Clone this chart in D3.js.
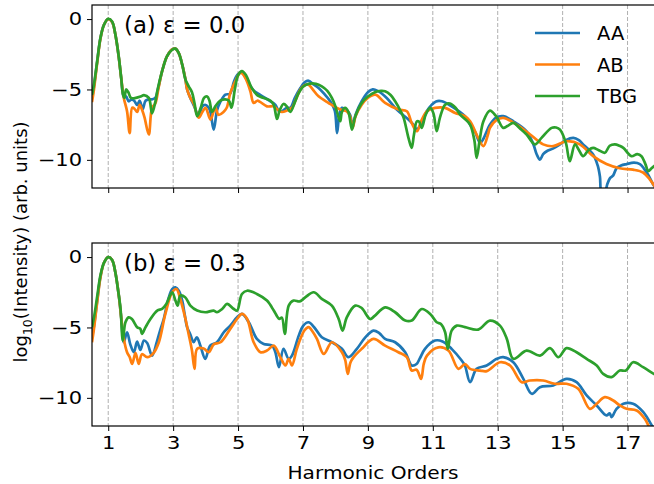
<!DOCTYPE html>
<html>
<head>
<meta charset="utf-8">
<script src="https://cdn.jsdelivr.net/npm/d3@7"></script>
<style>
  body { margin: 0; background: #fff; }
  text { font-family: "DejaVu Sans", sans-serif; fill: #000; }
</style>
</head>
<body>
<div id="chart"></div>
<script>
// series / ticks
const seriesNames = ["AA", "AB", "TBG"];
const seriesColors = ["#1f77b4", "#ff7f0e", "#2ca02c"];
const xTicks = [1, 3, 5, 7, 9, 11, 13, 15, 17];
const yTicks = [0, -5, -10];
const panelTitles = ["(a) ε = 0.0", "(b) ε = 0.3"];

// panel (a), eps = 0.0 : [harmonic order, log10 intensity]
const aaA = [[0.5,-5.6],[0.56,-4.8],[0.66,-3.0],[0.76,-1.35],[0.87,-0.4],[1.0,0],[1.12,-0.2],[1.22,-1.1],[1.33,-2.8],[1.40,-4.2],[1.48,-5.5],[1.55,-5.5],[1.63,-5.84],[1.72,-5.7],[1.8,-5.8],[1.89,-6.1],[1.97,-5.8],[2.06,-6.4],[2.15,-5.8],[2.25,-5.7],[2.35,-5.7],[2.45,-5.6],[2.55,-4.8],[2.66,-3.7],[2.81,-2.65],[2.97,-2.15],[3.07,-2.1],[3.17,-2.4],[3.28,-3.24],[3.38,-4.3],[3.43,-5.0],[3.53,-5.6],[3.65,-6.2],[3.79,-6.9],[3.9,-6.2],[4.0,-6.1],[4.12,-6.4],[4.25,-7.85],[4.35,-6.5],[4.45,-5.9],[4.61,-5.37],[4.75,-5.3],[4.88,-4.4],[5.0,-3.9],[5.12,-3.8],[5.25,-4.2],[5.45,-5.0],[5.69,-5.4],[6.0,-5.84],[6.15,-6.1],[6.25,-6.5],[6.35,-6.55],[6.5,-6.3],[6.61,-6.3],[6.75,-5.6],[6.92,-4.9],[7.05,-4.5],[7.17,-4.38],[7.3,-4.6],[7.48,-4.9],[7.65,-5.3],[7.84,-5.84],[7.98,-6.5],[8.05,-8.1],[8.12,-6.8],[8.2,-6.3],[8.35,-6.5],[8.45,-6.8],[8.53,-7.6],[8.62,-6.8],[8.81,-5.84],[9.0,-5.2],[9.15,-5.0],[9.3,-5.1],[9.58,-5.6],[9.89,-6.43],[10.25,-7.14],[10.4,-7.5],[10.51,-7.85],[10.6,-7.6],[10.66,-7.5],[10.8,-6.6],[10.97,-6.08],[11.1,-5.85],[11.28,-5.84],[11.58,-6.2],[11.99,-6.9],[12.15,-7.5],[12.3,-8.0],[12.46,-8.8],[12.56,-8.5],[12.76,-7.5],[12.95,-7.0],[13.17,-6.9],[13.48,-7.26],[13.89,-7.97],[14.1,-8.9],[14.2,-9.6],[14.3,-9.98],[14.4,-9.6],[14.51,-9.39],[14.7,-9.2],[14.92,-8.9],[15.1,-8.6],[15.33,-8.44],[15.5,-8.6],[15.63,-8.9],[15.94,-9.62],[16.08,-10.4],[16.15,-11.2],[16.2,-12.3],[16.3,-12.3],[16.38,-11.7],[16.46,-11.3],[16.56,-11.1],[16.66,-10.6],[16.8,-10.4],[16.97,-10.3],[17.2,-10.2],[17.38,-10.3],[17.5,-10.6],[17.63,-11.04],[17.79,-11.75],[17.9,-12.1]];
const abA = [[0.5,-5.9],[0.56,-5.0],[0.66,-3.1],[0.76,-1.4],[0.87,-0.4],[1.0,0],[1.12,-0.2],[1.22,-1.1],[1.33,-2.8],[1.40,-4.2],[1.48,-5.6],[1.58,-6.55],[1.66,-8.1],[1.74,-6.3],[1.82,-6.4],[1.89,-6.6],[1.97,-6.1],[2.05,-6.5],[2.12,-7.0],[2.25,-8.2],[2.35,-6.3],[2.45,-6.0],[2.55,-4.9],[2.66,-3.7],[2.81,-2.65],[2.97,-2.15],[3.07,-2.1],[3.17,-2.4],[3.28,-3.24],[3.38,-4.3],[3.43,-5.0],[3.53,-5.6],[3.63,-6.0],[3.79,-7.0],[3.9,-6.6],[4.0,-6.3],[4.15,-7.14],[4.3,-6.3],[4.4,-6.8],[4.55,-6.6],[4.65,-6.3],[4.76,-5.25],[4.92,-4.4],[5.05,-3.85],[5.12,-3.85],[5.25,-4.3],[5.38,-5.13],[5.48,-5.96],[5.59,-5.8],[5.69,-5.9],[5.89,-6.2],[6.1,-6.2],[6.2,-6.4],[6.35,-6.6],[6.5,-6.5],[6.66,-6.3],[6.8,-5.6],[6.92,-5.0],[7.05,-4.7],[7.17,-4.66],[7.3,-5.0],[7.48,-5.49],[7.79,-5.96],[8.15,-6.43],[8.35,-6.55],[8.45,-6.9],[8.53,-7.73],[8.62,-6.9],[8.81,-6.08],[9.0,-5.6],[9.23,-5.37],[9.53,-5.96],[9.94,-6.43],[10.2,-6.55],[10.35,-7.38],[10.51,-7.97],[10.65,-7.2],[10.82,-6.55],[11.07,-6.31],[11.38,-6.31],[11.69,-6.67],[11.99,-6.9],[12.15,-7.26],[12.4,-8.44],[12.56,-9.03],[12.7,-8.2],[12.76,-7.73],[12.95,-7.2],[13.17,-7.02],[13.58,-7.5],[14.0,-8.2],[14.4,-8.9],[14.71,-9.03],[15.12,-8.68],[15.53,-8.9],[15.94,-9.74],[16.35,-10.3],[16.76,-10.6],[17.17,-10.7],[17.48,-10.9],[17.69,-11.4],[17.9,-12.1]];
const tbgA = [[0.5,-5.4],[0.56,-4.66],[0.66,-3.0],[0.76,-1.35],[0.87,-0.4],[1.0,0.02],[1.12,-0.17],[1.22,-1.1],[1.33,-2.77],[1.40,-4.2],[1.46,-5.4],[1.5,-5.6],[1.55,-5.0],[1.62,-5.2],[1.7,-5.6],[1.85,-5.6],[2.0,-5.5],[2.1,-5.4],[2.25,-5.6],[2.35,-6.7],[2.45,-5.9],[2.51,-5.13],[2.66,-3.7],[2.81,-2.65],[2.97,-2.18],[3.07,-2.1],[3.17,-2.4],[3.28,-3.24],[3.38,-4.3],[3.48,-4.78],[3.58,-5.2],[3.66,-6.0],[3.74,-6.9],[3.85,-6.3],[3.95,-5.6],[4.05,-5.5],[4.12,-5.8],[4.2,-6.6],[4.3,-6.2],[4.45,-5.8],[4.6,-5.7],[4.72,-5.8],[4.8,-6.3],[4.9,-5.0],[5.0,-4.0],[5.12,-3.7],[5.25,-4.0],[5.4,-4.8],[5.59,-5.4],[6.0,-5.8],[6.1,-6.1],[6.2,-7.1],[6.28,-6.5],[6.4,-6.03],[6.5,-6.2],[6.61,-6.6],[6.75,-5.9],[6.87,-5.25],[7.0,-4.8],[7.17,-4.6],[7.4,-4.6],[7.58,-4.78],[7.75,-5.1],[7.89,-5.6],[8.0,-6.2],[8.1,-7.0],[8.15,-7.26],[8.2,-6.6],[8.3,-6.3],[8.4,-6.6],[8.51,-7.85],[8.6,-7.0],[8.81,-5.96],[9.0,-5.5],[9.23,-5.18],[9.4,-5.1],[9.53,-5.13],[9.7,-5.4],[9.84,-5.84],[10.0,-6.5],[10.1,-7.0],[10.25,-8.44],[10.35,-9.15],[10.42,-8.2],[10.51,-7.26],[10.58,-7.3],[10.66,-7.73],[10.78,-6.8],[10.92,-6.31],[11.02,-6.7],[11.12,-7.97],[11.22,-7.0],[11.38,-6.08],[11.53,-6.0],[11.7,-6.3],[11.84,-6.79],[11.99,-7.1],[12.15,-7.5],[12.28,-8.6],[12.35,-9.86],[12.45,-8.5],[12.56,-7.26],[12.76,-6.5],[12.95,-6.9],[13.17,-7.73],[13.3,-7.6],[13.48,-7.38],[13.7,-7.8],[13.89,-8.2],[14.15,-8.9],[14.35,-8.44],[14.66,-7.73],[14.8,-7.7],[14.92,-7.85],[15.1,-8.8],[15.22,-10.1],[15.38,-8.9],[15.5,-9.3],[15.63,-9.74],[15.8,-9.3],[15.94,-9.15],[16.1,-9.3],[16.3,-9.5],[16.45,-9.0],[16.61,-8.9],[16.75,-9.0],[16.87,-9.15],[17.12,-9.74],[17.3,-9.6],[17.43,-9.74],[17.55,-10.3],[17.64,-10.8],[17.74,-10.6],[17.9,-10.3]];

// panel (b), eps = 0.3
const aaB = [[0.5,-5.7],[0.56,-4.9],[0.66,-3.1],[0.76,-1.4],[0.87,-0.4],[1.0,0],[1.12,-0.2],[1.22,-1.1],[1.33,-2.8],[1.40,-4.3],[1.48,-6.05],[1.58,-5.34],[1.68,-6.2],[1.79,-6.76],[1.89,-6.0],[1.99,-6.6],[2.1,-5.93],[2.2,-6.1],[2.35,-7.0],[2.5,-6.0],[2.6,-5.2],[2.71,-4.4],[2.85,-3.0],[2.97,-2.27],[3.07,-2.15],[3.18,-2.4],[3.28,-3.09],[3.35,-4.0],[3.43,-4.98],[3.53,-5.5],[3.63,-6.05],[3.73,-5.7],[3.84,-6.3],[3.99,-7.23],[4.14,-6.3],[4.35,-6.05],[4.56,-5.34],[4.76,-4.87],[4.97,-4.28],[5.12,-4.04],[5.33,-4.63],[5.58,-5.81],[5.79,-6.17],[6.05,-6.29],[6.15,-6.76],[6.26,-7.82],[6.40,-6.52],[6.56,-7.23],[6.66,-7.0],[6.87,-5.58],[7.0,-4.9],[7.17,-4.63],[7.35,-5.0],[7.58,-5.7],[7.89,-6.05],[8.2,-6.52],[8.4,-7.11],[8.66,-6.52],[8.92,-5.7],[9.17,-5.22],[9.35,-5.4],[9.53,-5.81],[9.84,-6.05],[10.15,-6.76],[10.35,-7.7],[10.5,-7.6],[10.6,-7.2],[10.76,-6.52],[11.07,-5.93],[11.3,-6.0],[11.58,-6.52],[11.89,-7.35],[11.99,-7.7],[12.15,-8.89],[12.35,-7.94],[12.66,-7.7],[12.97,-7.23],[13.17,-7.11],[13.48,-7.47],[13.79,-8.65],[14.05,-9.71],[14.3,-9.24],[14.71,-9.12],[15.12,-8.65],[15.43,-8.89],[15.74,-9.83],[16.05,-10.54],[16.35,-11.25],[16.45,-11.1],[16.51,-11.37],[16.66,-10.78],[16.87,-10.42],[17.17,-10.42],[17.48,-11.0],[17.81,-12.2],[17.9,-12.5]];
const abB = [[0.5,-6.05],[0.56,-5.1],[0.66,-3.2],[0.76,-1.45],[0.87,-0.4],[1.0,0],[1.12,-0.2],[1.22,-1.1],[1.33,-2.8],[1.40,-4.3],[1.48,-5.8],[1.58,-6.76],[1.66,-7.1],[1.74,-7.59],[1.84,-6.8],[1.94,-7.59],[2.04,-6.9],[2.2,-7.11],[2.4,-6.8],[2.56,-6.05],[2.76,-4.04],[2.97,-2.5],[3.1,-2.27],[3.22,-2.98],[3.38,-4.4],[3.48,-5.5],[3.58,-6.64],[3.66,-7.94],[3.74,-6.52],[3.94,-6.5],[4.1,-6.76],[4.25,-6.2],[4.46,-6.05],[4.76,-5.1],[4.97,-4.4],[5.12,-4.04],[5.28,-4.4],[5.48,-6.05],[5.69,-6.76],[5.89,-6.64],[6.1,-6.29],[6.3,-7.11],[6.46,-7.7],[6.56,-7.23],[6.66,-7.7],[6.8,-6.6],[6.92,-5.81],[7.05,-5.2],[7.17,-4.98],[7.3,-5.3],[7.43,-5.81],[7.64,-6.88],[7.89,-6.05],[8.2,-6.76],[8.3,-7.3],[8.38,-8.3],[8.46,-7.5],[8.56,-7.11],[8.81,-6.52],[9.17,-5.81],[9.53,-6.29],[9.94,-6.76],[10.2,-7.11],[10.35,-8.06],[10.5,-8.0],[10.64,-8.65],[10.72,-7.6],[10.82,-7.0],[11.17,-6.41],[11.48,-6.64],[11.79,-7.94],[11.99,-7.6],[12.15,-7.94],[12.46,-8.06],[12.66,-8.1],[13.07,-7.47],[13.38,-7.7],[13.74,-8.89],[13.99,-8.77],[14.4,-8.77],[14.76,-9.0],[15.12,-9.0],[15.48,-9.36],[15.84,-10.78],[16.05,-10.42],[16.3,-9.95],[16.56,-10.19],[16.76,-10.54],[16.97,-10.78],[17.28,-10.9],[17.53,-11.49],[17.74,-12.4],[17.9,-12.8]];
const tbgB = [[0.5,-4.98],[0.56,-4.3],[0.66,-2.8],[0.76,-1.3],[0.87,-0.4],[1.0,0],[1.12,-0.2],[1.22,-1.1],[1.30,-2.3],[1.38,-3.69],[1.45,-5.93],[1.53,-4.63],[1.63,-4.28],[1.73,-4.4],[1.89,-4.98],[1.99,-5.1],[2.04,-5.46],[2.15,-4.98],[2.3,-4.4],[2.51,-3.8],[2.66,-3.68],[2.79,-3.33],[2.97,-2.5],[3.07,-3.09],[3.14,-3.45],[3.22,-2.74],[3.37,-2.85],[3.53,-3.45],[3.74,-3.8],[3.99,-3.92],[4.25,-3.8],[4.35,-3.92],[4.51,-3.69],[4.66,-3.33],[4.87,-3.69],[4.97,-3.8],[5.12,-2.62],[5.28,-2.39],[5.58,-2.62],[5.89,-3.09],[6.1,-3.8],[6.2,-4.2],[6.27,-4.4],[6.35,-4.3],[6.44,-5.46],[6.56,-3.45],[6.71,-3.09],[6.9,-3.15],[7.07,-2.86],[7.33,-2.5],[7.58,-2.97],[7.89,-3.45],[8.1,-4.4],[8.22,-5.22],[8.35,-4.28],[8.61,-3.45],[8.8,-3.6],[9.07,-4.4],[9.2,-4.2],[9.53,-3.57],[9.84,-3.92],[10.15,-4.51],[10.35,-4.51],[10.66,-3.69],[10.92,-4.04],[11.12,-4.63],[11.25,-4.75],[11.38,-5.34],[11.46,-6.52],[11.58,-5.22],[11.74,-4.87],[11.99,-4.98],[12.4,-5.15],[12.76,-4.51],[13.07,-4.87],[13.28,-5.81],[13.48,-7.23],[13.89,-6.64],[14.3,-7.0],[14.61,-6.47],[14.87,-7.11],[15.12,-6.47],[15.43,-6.76],[15.74,-7.23],[16.05,-7.7],[16.25,-8.3],[16.51,-8.53],[16.76,-8.06],[16.95,-8.06],[17.17,-7.47],[17.48,-7.82],[17.81,-8.3],[17.9,-8.4]];

const W = 654, H = 484;
const left = 92, right = 660;
const tickStretch = 1.2;   // picture text looks widened horizontally
const panels = [
  {top: 5, bottom: 188, title: panelTitles[0], lines: [aaA, abA, tbgA], legend: true, xLabels: false},
  {top: 243, bottom: 426, title: panelTitles[1], lines: [aaB, abB, tbgB], legend: false, xLabels: true}
];

const svg = d3.select("#chart").append("svg")
  .attr("width", W).attr("height", H);

const x = d3.scaleLinear().domain([0.5, 18]).range([left, right]);

panels.forEach(function(p, i) {
  const y = d3.scaleLinear().domain([1, -12]).range([p.top, p.bottom]);
  const g = svg.append("g");

  g.append("clipPath").attr("id", "clip" + i)
    .append("rect").attr("x", left).attr("y", p.top)
    .attr("width", right - left).attr("height", p.bottom - p.top);

  // dashed vertical grid at odd harmonics
  g.selectAll(".grid").data(xTicks).enter().append("line")
    .attr("x1", d => x(d)).attr("x2", d => x(d))
    .attr("y1", p.top).attr("y2", p.bottom)
    .attr("stroke", "#b0b0b0").attr("stroke-width", 1)
    .attr("stroke-dasharray", "4,2");

  const line = d3.line()
    .x(d => x(d[0])).y(d => y(d[1]))
    .curve(d3.curveCatmullRom.alpha(0.5));

  p.lines.forEach(function(data, k) {
    g.append("path")
      .datum(data)
      .attr("clip-path", "url(#clip" + i + ")")
      .attr("fill", "none")
      .attr("stroke", seriesColors[k])
      .attr("stroke-width", 2.7)
      .attr("stroke-linejoin", "round")
      .attr("d", line);
  });

  // axes
  const xAxis = d3.axisBottom(x).tickValues(xTicks).tickSize(5).tickPadding(6)
    .tickFormat(p.xLabels ? d3.format("d") : "");
  const gx = g.append("g").attr("transform", `translate(0,${p.bottom})`).call(xAxis);
  const yAxis = d3.axisLeft(y).tickValues(yTicks).tickSize(5).tickPadding(5)
    .tickFormat(d => d < 0 ? "\u2212" + Math.abs(d) : d);
  const gy = g.append("g").attr("transform", `translate(${left},0)`).call(yAxis);
  [gx, gy].forEach(a => {
    a.select(".domain").remove();
    a.selectAll("line").attr("stroke", "#000").attr("stroke-width", 1);
    a.selectAll("text").attr("font-family", "DejaVu Sans").attr("font-size", 17.5).attr("fill", "#000");
  });
  gx.selectAll("text").attr("transform", `scale(${tickStretch},1)`);
  gy.selectAll("text").attr("transform", `translate(-10,0) scale(${tickStretch},1) translate(10,0)`);

  // frame (right side falls outside the picture)
  g.append("rect").attr("x", left).attr("y", p.top)
    .attr("width", right - left).attr("height", p.bottom - p.top)
    .attr("fill", "none").attr("stroke", "#000").attr("stroke-width", 1.2);

  g.append("text").attr("x", 124).attr("y", p.top + 28)
    .attr("font-size", 22.8).text(p.title);

  if (p.legend) {
    const lg = g.append("g");
    seriesNames.forEach(function(name, k) {
      const ly = 33 + k * 31.5;
      lg.append("line").attr("x1", 535).attr("x2", 580).attr("y1", ly).attr("y2", ly)
        .attr("stroke", seriesColors[k]).attr("stroke-width", 2.7);
      lg.append("text").attr("x", 597).attr("y", ly).attr("dy", "0.36em")
        .attr("font-size", 19.5).text(name);
    });
  }
});

svg.append("text").attr("x", 373).attr("y", 479)
  .attr("text-anchor", "middle").attr("font-size", 18)
  .attr("transform", "translate(373,0) scale(1.12,1) translate(-373,0)")
  .text("Harmonic Orders");

const yl = svg.append("text")
  .attr("transform", "translate(27,242) rotate(-90)")
  .attr("text-anchor", "middle").attr("font-size", 18);
yl.append("tspan").text("log");
yl.append("tspan").attr("font-size", 12.5).attr("dy", 5).text("10");
yl.append("tspan").attr("dy", -5).text("(Intensity) (arb. units)");
</script>
</body>
</html>
